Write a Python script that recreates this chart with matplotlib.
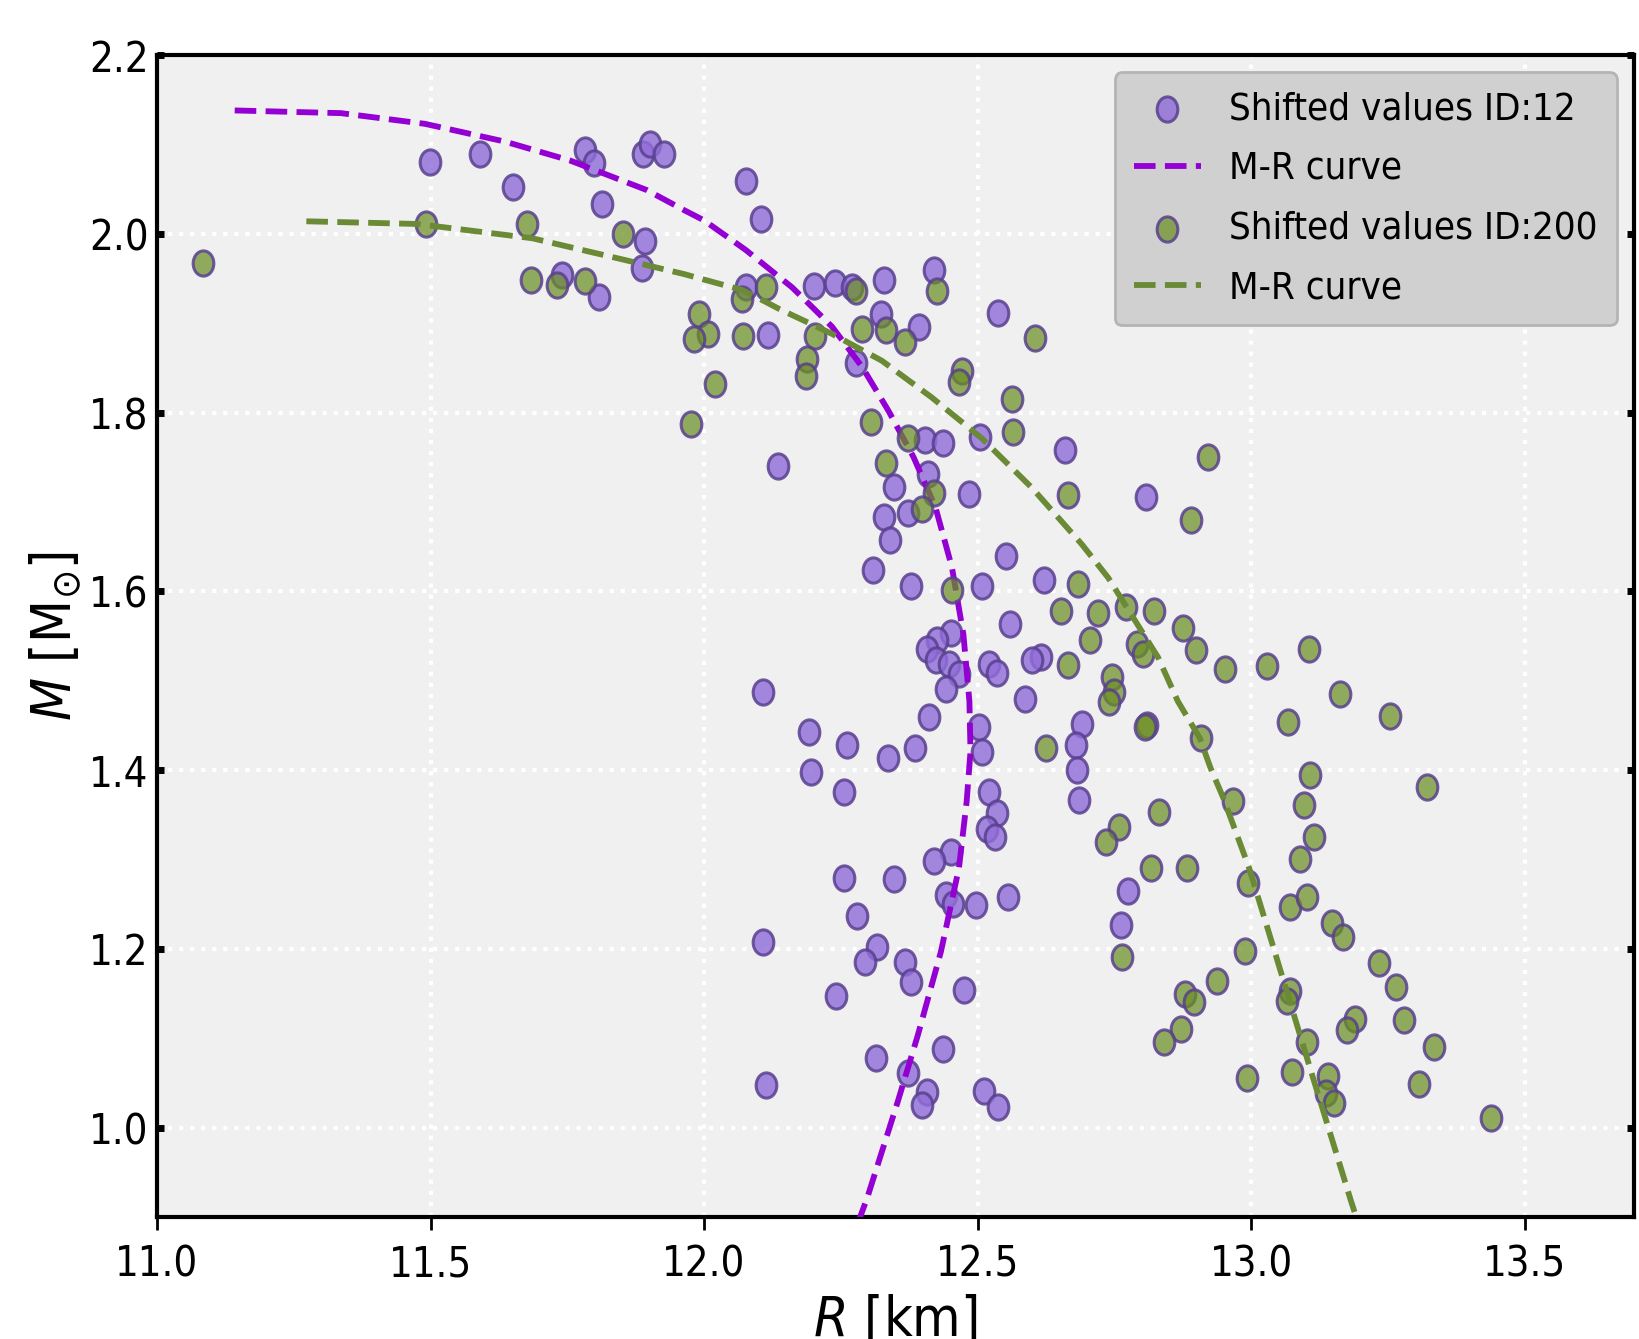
import numpy as np
import matplotlib
matplotlib.use('Agg')
import matplotlib.pyplot as plt
from matplotlib.path import Path
from matplotlib.transforms import Affine2D

# premaknjene vrednosti ID:12
R12 = [11.499, 11.591, 11.650, 11.782, 11.799, 11.814, 11.888, 11.902, 11.927, 11.892,
       11.886, 11.740, 11.808, 12.077, 12.104, 12.077, 12.117, 12.136, 12.201, 12.239,
       12.270, 12.329, 12.421, 12.323, 12.392, 12.537, 12.278, 12.505, 12.659, 12.403,
       12.436, 12.409, 12.348, 12.373, 12.329, 12.339, 12.485, 12.308, 12.379, 12.508,
       12.552, 12.621, 12.560, 12.615, 12.600, 12.587, 12.691, 12.680, 12.682, 12.686,
       12.451, 12.426, 12.407, 12.424, 12.447, 12.466, 12.443, 12.521, 12.535, 12.108,
       12.411, 12.502, 12.508, 12.192, 12.195, 12.262, 12.337, 12.386, 12.256, 12.521,
       12.535, 12.518, 12.531, 12.451, 12.421, 12.808, 12.775, 12.762, 12.255, 12.348,
       12.442, 12.455, 12.497, 12.556, 12.279, 12.108, 12.316, 12.295, 12.367, 12.379,
       12.476, 12.241, 12.436, 12.314, 12.373, 12.113, 12.407, 12.398, 12.512, 12.537]
M12 = [2.080, 2.089, 2.052, 2.094, 2.079, 2.033, 2.089, 2.101, 2.089, 1.992,
       1.962, 1.954, 1.929, 2.059, 2.017, 1.941, 1.887, 1.740, 1.942, 1.945,
       1.941, 1.948, 1.959, 1.910, 1.896, 1.911, 1.855, 1.773, 1.758, 1.769,
       1.766, 1.731, 1.717, 1.688, 1.683, 1.657, 1.709, 1.624, 1.606, 1.606,
       1.639, 1.613, 1.564, 1.527, 1.523, 1.479, 1.452, 1.428, 1.400, 1.366,
       1.553, 1.546, 1.536, 1.523, 1.519, 1.507, 1.491, 1.519, 1.509, 1.487,
       1.459, 1.448, 1.420, 1.443, 1.398, 1.428, 1.414, 1.425, 1.375, 1.375,
       1.352, 1.334, 1.325, 1.308, 1.298, 1.706, 1.265, 1.227, 1.279, 1.278,
       1.260, 1.250, 1.249, 1.258, 1.237, 1.208, 1.202, 1.185, 1.185, 1.163,
       1.154, 1.147, 1.088, 1.078, 1.061, 1.048, 1.040, 1.025, 1.041, 1.023]

# premaknjene vrednosti ID:200
R200 = [11.084, 11.492, 11.677, 11.684, 11.732, 11.783, 11.852, 11.990, 12.007, 11.982,
        12.020, 11.976, 12.070, 12.113, 12.071, 12.203, 12.188, 12.186, 12.277, 12.289,
        12.333, 12.367, 12.426, 12.604, 12.472, 12.466, 12.562, 12.564, 12.665, 12.306,
        12.373, 12.333, 12.420, 12.399, 12.453, 12.684, 12.653, 12.720, 12.705, 12.665,
        12.625, 12.922, 12.890, 12.771, 12.823, 12.876, 12.792, 12.802, 12.899, 12.953,
        13.029, 13.105, 12.745, 12.749, 12.741, 13.162, 13.067, 13.254, 12.810, 12.806,
        12.909, 13.107, 13.321, 12.966, 13.096, 12.831, 12.758, 12.735, 13.115, 13.090,
        12.817, 12.882, 12.994, 12.764, 13.071, 13.103, 13.147, 13.168, 12.989, 13.233,
        13.264, 12.937, 12.880, 12.896, 13.071, 13.065, 13.189, 13.176, 13.279, 13.334,
        12.871, 12.840, 13.103, 12.993, 13.075, 13.141, 13.136, 13.151, 13.306, 13.439]
M200 = [1.967, 2.011, 2.011, 1.948, 1.943, 1.947, 2.000, 1.910, 1.888, 1.882,
        1.832, 1.787, 1.927, 1.940, 1.886, 1.886, 1.860, 1.841, 1.936, 1.894,
        1.892, 1.879, 1.936, 1.883, 1.847, 1.834, 1.815, 1.778, 1.708, 1.790,
        1.772, 1.744, 1.710, 1.692, 1.601, 1.608, 1.578, 1.576, 1.545, 1.518,
        1.425, 1.750, 1.680, 1.582, 1.578, 1.559, 1.541, 1.530, 1.534, 1.513,
        1.516, 1.536, 1.504, 1.487, 1.476, 1.485, 1.454, 1.461, 1.450, 1.448,
        1.436, 1.395, 1.381, 1.365, 1.361, 1.353, 1.336, 1.320, 1.325, 1.301,
        1.291, 1.290, 1.274, 1.191, 1.247, 1.258, 1.229, 1.213, 1.198, 1.184,
        1.157, 1.164, 1.149, 1.141, 1.153, 1.142, 1.122, 1.109, 1.120, 1.090,
        1.110, 1.096, 1.096, 1.056, 1.062, 1.058, 1.039, 1.028, 1.049, 1.011]

# M-R krivulji
R_kriv12 = [11.142, 11.336, 11.490, 11.637, 11.755, 11.895, 11.965, 12.000, 12.076,
            12.161, 12.201, 12.234, 12.289, 12.337, 12.383, 12.423, 12.453, 12.474,
            12.485, 12.487, 12.480, 12.466, 12.433, 12.391, 12.354, 12.298, 12.284]
M_kriv12 = [2.138, 2.135, 2.123, 2.103, 2.082, 2.049, 2.026, 2.015, 1.982,
            1.940, 1.916, 1.896, 1.851, 1.802, 1.750, 1.694, 1.627, 1.552,
            1.477, 1.421, 1.365, 1.291, 1.197, 1.104, 1.029, 0.921, 0.898]

R_kriv200 = [11.273, 11.476, 11.686, 11.860, 11.963, 12.070, 12.112, 12.137, 12.234,
             12.325, 12.416, 12.508, 12.599, 12.690, 12.739, 12.830, 12.866, 12.906,
             12.926, 12.949, 12.996, 13.043, 13.108, 13.182, 13.193]
M_kriv200 = [2.014, 2.011, 1.995, 1.970, 1.955, 1.937, 1.924, 1.916, 1.888,
             1.858, 1.817, 1.771, 1.716, 1.653, 1.615, 1.526, 1.477, 1.436,
             1.402, 1.369, 1.291, 1.197, 1.066, 0.919, 0.898]

plt.rcParams['font.stretch'] = 'condensed'

fig = plt.figure(figsize=(16.39, 13.39), dpi=100)
ax = fig.add_axes([0.0958, 0.0911, 0.9012, 0.8678])
ax.set_facecolor('#f0f0f0')

elipsa = Path.unit_circle().transformed(Affine2D().scale(0.82, 1.0))
rob = (0.35, 0.25, 0.56, 0.85)

p1 = ax.scatter(R12, M12, s=330, marker=elipsa, facecolor=(0.57, 0.43, 0.85, 0.82),
                edgecolor=rob, linewidth=2.2, zorder=3)
l1, = ax.plot(R_kriv12, M_kriv12, '--', color='darkviolet', lw=4.2, zorder=3)
p2 = ax.scatter(R200, M200, s=330, marker=elipsa, facecolor=(0.42, 0.56, 0.14, 0.72),
                edgecolor=rob, linewidth=2.2, zorder=4)
l2, = ax.plot(R_kriv200, M_kriv200, '--', color='#6b8a35', lw=4.2, zorder=4)

ax.set_xlim(11.0, 13.7)
ax.set_ylim(0.9, 2.2)
ax.set_xticks([11.0, 11.5, 12.0, 12.5, 13.0, 13.5])
ax.set_yticks([1.0, 1.2, 1.4, 1.6, 1.8, 2.0, 2.2])
ax.grid(True, color='white', linestyle=':', linewidth=3)
ax.set_axisbelow(True)

for s in ax.spines.values():
    s.set_linewidth(3)
    s.set_color('black')

ax.tick_params(axis='x', direction='out', length=9, width=2, labelsize=30, pad=10)
ax.tick_params(axis='y', direction='in', length=5, width=5, labelsize=30, pad=6,
               left=True, right=True)

ax.set_xlabel(r'$R$ [km]', fontsize=40, labelpad=6)
ax.set_ylabel(r'$M$ [M$_{\odot}$]', fontsize=40, labelpad=4)

leg = ax.legend([p1, l1, p2, l2],
                ['Shifted values ID:12', 'M-R curve', 'Shifted values ID:200', 'M-R curve'],
                loc='upper right', fontsize=27.5, scatterpoints=1, labelspacing=0.62,
                handlelength=1.75, handletextpad=0.75, borderpad=0.5, borderaxespad=0.45,
                fancybox=True, framealpha=1)
leg.get_frame().set_facecolor('#d0d0d0')
leg.get_frame().set_edgecolor('#b4b4b4')
leg.get_frame().set_linewidth(2)

fig.savefig('out.png', dpi=100)
